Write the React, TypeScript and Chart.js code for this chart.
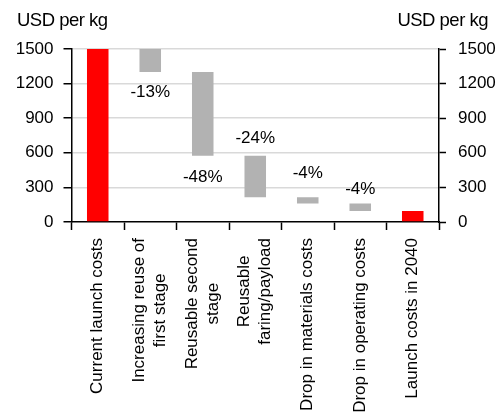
import React, { useEffect, useRef } from "react";
import { Chart, registerables } from "chart.js";

Chart.register(...registerables);

const categories: string[][] = [
  ["Current launch costs"],
  ["Increasing reuse of", "first stage"],
  ["Reusable second", "stage"],
  ["Reusable", "faring/payload"],
  ["Drop in materials costs"],
  ["Drop in operating costs"],
  ["Launch costs in 2040"],
];

// Cost level (USD per kg) after each step of the waterfall
const levels: number[] = [1500, 1300, 575, 215, 160, 95];

const changeLabels: (string | null)[] = [null, "-13%", "-48%", "-24%", "-4%", "-4%", null];
// value (USD per kg) at which each change label sits
const labelAnchors: (number | null)[] = [null, 1086, 349, 682, 379, 240, null];

const yTicks: number[] = [0, 300, 600, 900, 1200, 1500];
const axisTitle = "USD per kg";

const RED = "#ff0000";
const GRAY = "#b2b2b2";
const FONT = "'Liberation Sans', Arial, sans-serif";

const W = 497;
const H = 418;

export default function App() {
  const ref = useRef<HTMLCanvasElement | null>(null);

  useEffect(() => {
    if (!ref.current) return;

    const barData: [number, number][] = [];
    const colors: string[] = [];
    barData.push([0, levels[0]]);
    colors.push(RED);
    for (let i = 1; i < levels.length; i++) {
      barData.push([levels[i], levels[i - 1]]);
      colors.push(GRAY);
    }
    barData.push([0, levels[levels.length - 1]]);
    colors.push(RED);

    const overlay = {
      id: "overlay",
      afterDatasetsDraw(chart: any) {
        const ctx = chart.ctx;
        const xs = chart.scales.x;
        const ys = chart.scales.y;
        ctx.save();
        ctx.fillStyle = "#000";
        ctx.font = `17px ${FONT}`;
        ctx.textAlign = "center";
        ctx.textBaseline = "alphabetic";
        changeLabels.forEach((t, i) => {
          const a = labelAnchors[i];
          if (!t || a == null) return;
          ctx.fillText(t, xs.getPixelForValue(i), ys.getPixelForValue(a));
        });
        ctx.restore();
      },
      afterDraw(chart: any) {
        const ctx = chart.ctx;
        const xs = chart.scales.x;
        ctx.save();
        ctx.fillStyle = "#000";
        ctx.font = `18.5px ${FONT}`;
        try { (ctx as any).letterSpacing = "-0.5px"; } catch (e) {}
        ctx.textBaseline = "alphabetic";
        ctx.textAlign = "left";
        ctx.fillText(axisTitle, 17, 26);
        ctx.textAlign = "right";
        ctx.fillText(axisTitle, 488, 26);
        try { (ctx as any).letterSpacing = "0px"; } catch (e) {}

        ctx.font = `17px ${FONT}`;
        ctx.textAlign = "center";
        ctx.textBaseline = "middle";
        const lineH = 21;
        const top = chart.chartArea.bottom + 16;
        categories.forEach((lines, i) => {
          const x = xs.getPixelForValue(i);
          const wMax = Math.max(...lines.map((l) => ctx.measureText(l).width));
          ctx.save();
          ctx.translate(x, top);
          ctx.rotate(-Math.PI / 2);
          lines.forEach((l, j) => {
            const off = (j - (lines.length - 1) / 2) * lineH;
            ctx.fillText(l, -wMax / 2, off);
          });
          ctx.restore();
        });
        ctx.restore();
      },
    };

    const chart = new Chart(ref.current, {
      type: "bar",
      data: {
        labels: categories.map((c) => c.join(" ")),
        datasets: [
          {
            data: barData as any,
            backgroundColor: colors,
            borderWidth: 0,
            categoryPercentage: 1,
            barPercentage: 0.41,
          },
        ],
      },
      options: {
        animation: false,
        responsive: true,
        maintainAspectRatio: false,
        layout: { padding: { top: 49, left: 0, right: 0, bottom: 0 } },
        plugins: {
          legend: { display: false },
          tooltip: { enabled: false },
          title: { display: false },
        },
        scales: {
          x: {
            type: "category",
            grid: {
              offset: true,
              drawOnChartArea: false,
              drawTicks: true,
              tickLength: 8,
              tickColor: "#000",
              tickWidth: 1.5,
            },
            border: { color: "#000", width: 1.5 },
            ticks: { display: false },
            afterFit(scale: any) {
              scale.height = H - 222;
            },
          },
          y: {
            position: "left",
            min: 0,
            max: 1500,
            afterBuildTicks(scale: any) {
              scale.ticks = yTicks.map((v) => ({ value: v }));
            },
            ticks: {
              color: "#000",
              font: { family: FONT, size: 17 },
              padding: 10,
              callback: (v: any) => String(v),
            },
            grid: {
              color: (c: any) => (c.tick && c.tick.value === 0 ? "rgba(0,0,0,0)" : "#d9d9d9"),
              lineWidth: 1.5,
              tickColor: "#000",
              tickLength: 8,
              tickWidth: 1.5,
            },
            border: { color: "#000", width: 1.5 },
            afterFit(scale: any) {
              scale.width = 71.5;
            },
          },
          y2: {
            position: "right",
            min: 0,
            max: 1500,
            afterBuildTicks(scale: any) {
              scale.ticks = yTicks.map((v) => ({ value: v }));
            },
            ticks: {
              color: "#000",
              font: { family: FONT, size: 17 },
              padding: 12,
              callback: (v: any) => String(v),
            },
            grid: {
              drawOnChartArea: false,
              tickColor: "#000",
              tickLength: 7,
              tickWidth: 1.5,
            },
            border: { color: "#000", width: 1.5 },
            afterFit(scale: any) {
              scale.width = W - 439;
            },
          },
        },
      },
      plugins: [overlay],
    });

    return () => chart.destroy();
  }, []);

  return (
    <div style={{ position: "absolute", left: 0, top: 0, width: W, height: H, background: "#fff" }}>
      <canvas ref={ref} />
    </div>
  );
}
